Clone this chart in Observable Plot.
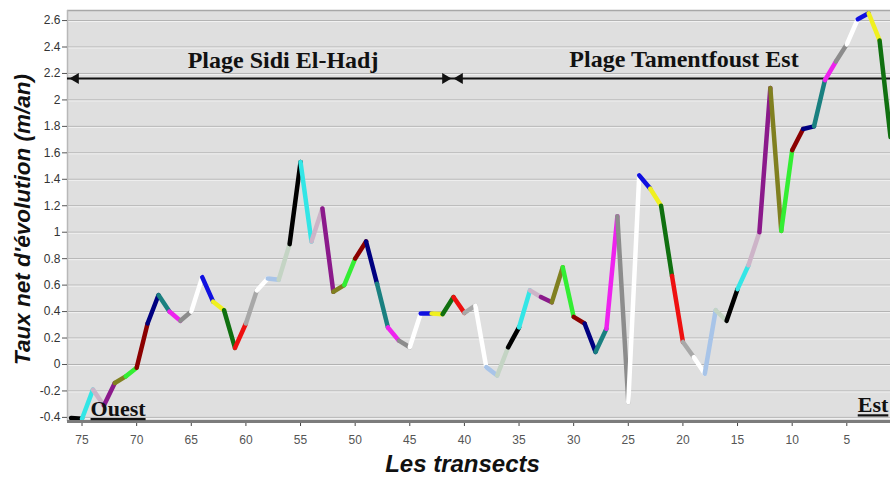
<!DOCTYPE html>
<html>
<head>
<meta charset="utf-8">
<script src="https://cdn.jsdelivr.net/npm/d3@7"></script>
<script src="https://cdn.jsdelivr.net/npm/@observablehq/plot@0.6"></script>
<style>
  body { margin: 0; background: #ffffff; }
</style>
</head>
<body>
<div id="chart"></div>
<script>
// Transect numbers (west → east) and net shoreline evolution rate (m/an)
const transects = [76,75,74,73,72,71,70,69,68,67,66,65,64,63,62,61,60,59,58,57,
                   56,55,54,53,52,51,50,49,48,47,46,45,44,43,42,41,40,39,38,37,
                   36,35,34,33,32,31,30,29,28,27,26,25,24,23,22,21,20,19,18,17,
                   16,15,14,13,12,11,10,9,8,7,6,5,4,3,2,1];
const rates = [-0.405,-0.41,-0.19,-0.31,-0.14,-0.09,-0.025,0.31,0.525,0.40,
               0.33,0.40,0.66,0.475,0.41,0.125,0.31,0.56,0.65,0.64,
               0.91,1.53,0.93,1.18,0.55,0.60,0.80,0.93,0.61,0.28,
               0.18,0.13,0.385,0.385,0.38,0.51,0.39,0.445,-0.02,-0.083,
               0.13,0.28,0.56,0.51,0.47,0.735,0.36,0.31,0.095,0.27,
               1.12,-0.285,1.43,1.33,1.20,0.67,0.17,0.055,-0.07,0.41,
               0.33,0.57,0.75,1.0,2.09,1.01,1.62,1.78,1.80,2.15,
               2.29,2.42,2.61,2.655,2.45,1.72];
// Colour cycle of the successive segments
const segmentColors = ["#000000","#33e6e6","#cdb4c8","#8b1a8b","#808020","#33ee33",
                       "#8b0000","#000080","#1a8080","#ee22ee","#8c8c8c","#ffffff",
                       "#1010e0","#f0f020","#107010","#ee1010","#a8a8a8","#ffffff",
                       "#a8c4e8","#c4d4c4"];
const yTicks = [-0.4,-0.2,0,0.2,0.4,0.6,0.8,1,1.2,1.4,1.6,1.8,2,2.2,2.4,2.6];
const xTicks = [75,70,65,60,55,50,45,40,35,30,25,20,15,10,5];
const beachNames = ["Plage Sidi El-Hadj","Plage Tamentfoust Est"];
const sideNames = ["Ouest","Est"];
const yLabel = "Taux net d'évolution (m/an)";
const xLabel = "Les transects";

const segments = [];
for (let i = 0; i < transects.length - 1; i++) {
  segments.push({
    x1: transects[i], y1: rates[i],
    x2: transects[i + 1], y2: rates[i + 1],
    color: segmentColors[i % segmentColors.length]
  });
}

const serif = "'Liberation Serif', 'Times New Roman', serif";
const sans = "'Liberation Sans', Arial, sans-serif";

const chart = Plot.plot({
  width: 890,
  height: 480,
  marginLeft: 67,
  marginRight: 0,
  marginTop: 10,
  marginBottom: 59,
  style: { fontFamily: sans, background: "#ffffff", overflow: "visible" },
  x: { domain: [76.33, 1], axis: null },
  y: { domain: [-0.431, 2.676], axis: null },
  color: { type: "identity" },
  marks: [
    Plot.frame({ fill: "#dfdfdf", stroke: null }),
    Plot.ruleY(yTicks, { stroke: "#b2b2b2", strokeWidth: 1 }),
    Plot.ruleY(yTicks, { stroke: "#f2f2f2", strokeWidth: 1, dy: 1 }),
    Plot.ruleY([2.676], { stroke: "#a8a8a8", strokeWidth: 1.5 }),
    Plot.ruleX([76.33], { stroke: "#b8b8b8", strokeWidth: 1.5 }),
    Plot.axisY({ ticks: yTicks, tickFormat: d => String(d), tickSize: 5, tickPadding: 2,
                 fontSize: 12, color: "#333", stroke: "#555" }),
    Plot.axisX({ ticks: xTicks, tickFormat: d => String(d), tickSize: 5, tickPadding: 9,
                 fontSize: 12, color: "#555", stroke: "#444" }),
    // division arrows
    Plot.ruleY([2.162], { stroke: "#111", strokeWidth: 2 }),
    Plot.dot([{ x: 75.58, r: -90 }, { x: 41.75, r: 90 }, { x: 40.43, r: -90 }],
             { x: "x", y: 2.162, rotate: "r", symbol: "triangle", r: 4, fill: "#111", stroke: null }),
    // beach names
    Plot.text([beachNames[0]], { x: 56.6, y: 2.296, text: d => d, fontFamily: serif,
               fontWeight: "bold", fontSize: 24, fill: "#111" }),
    Plot.text([beachNames[1]], { x: 19.9, y: 2.305, text: d => d, fontFamily: serif,
               fontWeight: "bold", fontSize: 24, fill: "#111" }),
    // the transect rate line, one colour per segment
    Plot.link(segments, { x1: "x1", y1: "y1", x2: "x2", y2: "y2", stroke: "color",
                          strokeWidth: 4.5, strokeLinecap: "round", clip: true }),
    // bottom axis bar
    Plot.ruleY([-0.431], { stroke: "#7c7c7c", strokeWidth: 3 }),
    // West / East ends
    Plot.text([sideNames[0]], { x: 71.7, y: -0.336, text: d => d, fontFamily: serif,
               fontWeight: "bold", fontSize: 22, fill: "#111" }),
    Plot.text([sideNames[1]], { x: 2.6, y: -0.308, text: d => d, fontFamily: serif,
               fontWeight: "bold", fontSize: 22, fill: "#111" }),
    // axis titles
    Plot.text([yLabel], { frameAnchor: "left", textAnchor: "middle", dx: -45, dy: 3.5, rotate: -90,
               text: d => d, fontFamily: sans, fontWeight: "bold", fontStyle: "italic",
               fontSize: 22.5, fill: "#111" }),
    Plot.text([xLabel], { frameAnchor: "bottom", dx: -16.5, dy: 50, text: d => d,
               fontFamily: sans, fontWeight: "bold", fontStyle: "italic", fontSize: 24, fill: "#111" })
  ]
});
d3.select(chart).selectAll("text")
  .filter(function () { return sideNames.includes(this.textContent); })
  .style("text-decoration", "underline");
document.getElementById("chart").appendChild(chart);
</script>
</body>
</html>
